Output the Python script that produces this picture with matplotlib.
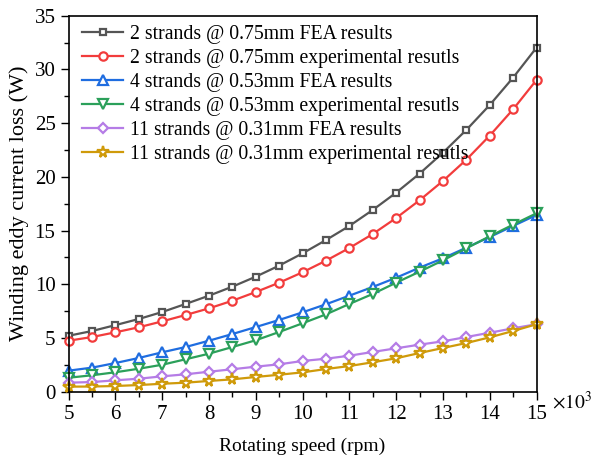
import matplotlib
matplotlib.use("Agg")
import matplotlib.pyplot as plt
import matplotlib.ticker as ticker

# rotating speed in krpm
speed = [5, 5.5, 6, 6.5, 7, 7.5, 8, 8.5, 9, 9.5, 10,
         10.5, 11, 11.5, 12, 12.5, 13, 13.5, 14, 14.5, 15]

fea_2 = [5.21, 5.65, 6.2, 6.77, 7.42, 8.17, 8.94, 9.78, 10.71, 11.74, 12.88,
         14.12, 15.43, 16.92, 18.53, 20.3, 22.25, 24.37, 26.69, 29.24, 32.03]
exp_2 = [4.75, 5.09, 5.53, 6.0, 6.55, 7.14, 7.76, 8.47, 9.28, 10.15, 11.12,
         12.2, 13.38, 14.68, 16.17, 17.82, 19.62, 21.6, 23.84, 26.29, 29.02]
fea_4 = [1.96, 2.24, 2.67, 3.14, 3.67, 4.16, 4.75, 5.37, 6.02, 6.68, 7.39,
         8.14, 8.94, 9.75, 10.61, 11.55, 12.42, 13.41, 14.4, 15.43, 16.45]
exp_4 = [1.3, 1.53, 1.81, 2.14, 2.51, 3.02, 3.54, 4.16, 4.79, 5.56, 6.37,
         7.2, 8.17, 9.1, 10.15, 11.17, 12.23, 13.35, 14.47, 15.55, 16.61]
fea_11 = [0.84, 0.9, 1.06, 1.21, 1.43, 1.62, 1.86, 2.09, 2.33, 2.55, 2.86,
          3.07, 3.35, 3.7, 4.04, 4.38, 4.69, 5.09, 5.49, 5.9, 6.28]
exp_11 = [0.47, 0.48, 0.53, 0.62, 0.74, 0.84, 1.0, 1.15, 1.37, 1.58, 1.8,
          2.11, 2.39, 2.74, 3.11, 3.6, 4.07, 4.53, 5.06, 5.65, 6.28]

labels = ["2 strands @ 0.75mm FEA results",
          "2 strands @ 0.75mm experimental resutls",
          "4 strands @ 0.53mm FEA results",
          "4 strands @ 0.53mm experimental resutls",
          "11 strands @ 0.31mm FEA results",
          "11 strands @ 0.31mm experimental resutls"]

plt.rcParams['font.family'] = ['Liberation Serif', 'DejaVu Serif']
plt.rcParams['mathtext.fontset'] = 'stix'

fig = plt.figure(figsize=(5.99, 4.57), dpi=100)
ax = fig.add_axes([0.1147, 0.1429, 0.781, 0.8227])

series = [fea_2, exp_2, fea_4, exp_4, fea_11, exp_11]
colors = ["#555555", "#f23c3c", "#1f6de0", "#2ba05a", "#b57ce6", "#cf9a0a"]
markers = ["s", "o", "^", "v", "D", "*"]
sizes = [5, 6, 6.5, 6.5, 5, 8.5]

for vals, col, mk, ms, lab in zip(series, colors, markers, sizes, labels):
    ax.plot(speed, vals, color=col, marker=mk, markersize=ms, linewidth=1.6,
            markerfacecolor="white", markeredgewidth=1.6, label=lab, clip_on=False)

ax.set_xlim(5, 15)
ax.set_ylim(0, 35)
ax.xaxis.set_major_locator(ticker.MultipleLocator(1))
ax.xaxis.set_minor_locator(ticker.MultipleLocator(0.5))
ax.yaxis.set_major_locator(ticker.MultipleLocator(5))
ax.yaxis.set_minor_locator(ticker.MultipleLocator(2.5))
ax.tick_params(which='major', length=6, width=1, labelsize=15, direction='out')
ax.tick_params(which='minor', length=3.5, width=1, direction='out')
for s in ax.spines.values():
    s.set_linewidth(1.2)

ax.set_xlabel("Rotating speed (rpm)", fontsize=14, labelpad=10)
ax.set_ylabel("Winding eddy current loss (W)", fontsize=16, labelpad=4)
ax.text(1.033, -0.025, r"$\times10^3$", transform=ax.transAxes, fontsize=14,
        ha='left', va='center')

ax.legend(loc='upper left', frameon=False, fontsize=14.2, handlelength=2.1,
          handletextpad=0.35, labelspacing=0.26, borderaxespad=0.0,
          bbox_to_anchor=(0.0115, 0.997))

fig.savefig("out.png", dpi=100)
